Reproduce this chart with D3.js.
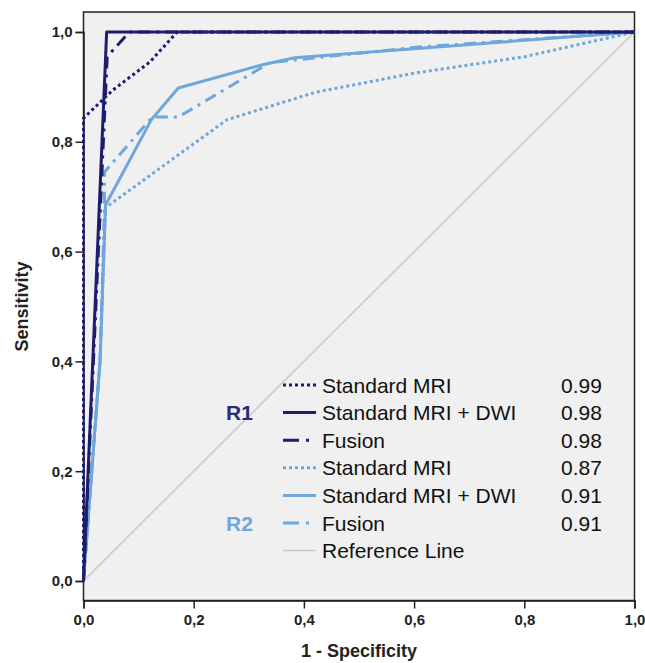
<!DOCTYPE html>
<html>
<head>
<meta charset="utf-8">
<script src="https://cdn.jsdelivr.net/npm/d3@7"></script>
<style>
  body { margin: 0; background: #ffffff; }
  svg { display: block; font-family: "Liberation Sans", Arial, sans-serif; }
</style>
</head>
<body>
<div id="chart"></div>
<script>
// ROC curves, two readers (R1, R2), three protocols each
var fprR1Std = [0, 0, 0.053, 0.12, 0.17, 1];
var tprR1Std = [0, 0.843, 0.894, 0.945, 1, 1];
var fprR1Dwi = [0, 0.042, 1];
var tprR1Dwi = [0, 1, 1];
var fprR1Fus = [0, 0.043, 0.083, 1];
var tprR1Fus = [0, 0.955, 1, 1];

var fprR2Std = [0, 0.03, 0.04, 0.26, 0.42, 0.6, 0.8, 1];
var tprR2Std = [0, 0.4, 0.68, 0.84, 0.89, 0.925, 0.955, 1];
var fprR2Dwi = [0, 0.03, 0.04, 0.123, 0.172, 0.323, 0.383, 1];
var tprR2Dwi = [0, 0.4, 0.685, 0.84, 0.898, 0.94, 0.953, 1];
var fprR2Fus = [0, 0.03, 0.038, 0.038, 0.125, 0.172, 0.338, 0.6, 1];
var tprR2Fus = [0, 0.4, 0.68, 0.745, 0.845, 0.845, 0.944, 0.972, 1];

var refLine = [0, 1];

var legendLabels = ["Standard MRI", "Standard MRI + DWI", "Fusion", "Standard MRI", "Standard MRI + DWI", "Fusion", "Reference Line"];
var aucValues = ["0.99", "0.98", "0.98", "0.87", "0.91", "0.91", ""];
var readerLabels = ["R1", "R2"];
var tickValues = [0, 0.2, 0.4, 0.6, 0.8, 1.0];

var W = 645, H = 663;
var dark = "#1d1d6e", light = "#6fa6dc", refColor = "#c9c9c9";

var svg = d3.select("#chart").append("svg")
    .attr("width", W)
    .attr("height", H);

var x = d3.scaleLinear().domain([0, 1]).range([83.5, 634.5]);
var y = d3.scaleLinear().domain([0, 1]).range([581, 32]);
var frameTop = 12, frameBottom = 600.5;

// plot background
svg.append("rect")
    .attr("x", x(0))
    .attr("y", frameTop)
    .attr("width", x(1) - x(0))
    .attr("height", frameBottom - frameTop)
    .attr("fill", "#f0f0f0")
    .attr("stroke", "#222")
    .attr("stroke-width", 1.5);

var fmt = function (d) { return d3.format(".1f")(d).replace(".", ","); };

var yAxis = svg.append("g")
    .attr("transform", "translate(" + x(0) + ",0)")
    .call(d3.axisLeft(y).tickValues(tickValues).tickFormat(fmt).tickSize(8).tickPadding(3));
var xAxis = svg.append("g")
    .attr("transform", "translate(0," + frameBottom + ")")
    .call(d3.axisBottom(x).tickValues(tickValues).tickFormat(fmt).tickSize(8).tickPadding(6));

[xAxis, yAxis].forEach(function (g) {
    g.select(".domain").attr("stroke", "#222").attr("stroke-width", 1.5);
    g.selectAll(".tick line").attr("stroke", "#222").attr("stroke-width", 1.5);
    g.selectAll(".tick text")
        .attr("fill", "#222")
        .attr("font-size", "15px")
        .attr("font-weight", "bold")
        .attr("font-family", "'Liberation Sans', Arial, sans-serif");
});

svg.append("text")
    .attr("x", (x(0) + x(1)) / 2)
    .attr("y", 657)
    .attr("text-anchor", "middle")
    .attr("font-size", "18px")
    .attr("font-weight", "bold")
    .attr("fill", "#222")
    .text("1 - Specificity");

svg.append("text")
    .attr("transform", "translate(28," + ((y(0) + y(1)) / 2) + ") rotate(-90)")
    .attr("text-anchor", "middle")
    .attr("font-size", "18px")
    .attr("font-weight", "bold")
    .attr("fill", "#222")
    .text("Sensitivity");

// curves
var line = d3.line()
    .x(function (d) { return x(d[0]); })
    .y(function (d) { return y(d[1]); });

var curves = [
    { fpr: refLine, tpr: refLine, color: refColor, width: 1.5, dash: null },
    { fpr: fprR2Std, tpr: tprR2Std, color: light, width: 3, dash: "3,3" },
    { fpr: fprR2Fus, tpr: tprR2Fus, color: light, width: 3, dash: "12,6,3,6" },
    { fpr: fprR2Dwi, tpr: tprR2Dwi, color: light, width: 3, dash: null },
    { fpr: fprR1Std, tpr: tprR1Std, color: dark, width: 3, dash: "3,3" },
    { fpr: fprR1Fus, tpr: tprR1Fus, color: dark, width: 3, dash: "12,6,3,6" },
    { fpr: fprR1Dwi, tpr: tprR1Dwi, color: dark, width: 3, dash: null }
];

svg.selectAll("path.curve")
    .data(curves)
    .enter()
    .append("path")
    .attr("class", "curve")
    .attr("d", function (d) { return line(d3.zip(d.fpr, d.tpr)); })
    .attr("fill", "none")
    .attr("stroke", function (d) { return d.color; })
    .attr("stroke-width", function (d) { return d.width; })
    .attr("stroke-dasharray", function (d) { return d.dash; })
    .attr("stroke-linejoin", "round");

// legend
var legendStyles = [
    { color: dark, width: 3, dash: "3,3" },
    { color: dark, width: 3, dash: null },
    { color: dark, width: 3, dash: "16,7,3,20" },
    { color: light, width: 3, dash: "3,3" },
    { color: light, width: 3, dash: null },
    { color: light, width: 3, dash: "16,7,3,20" },
    { color: refColor, width: 1.5, dash: null }
];

var rowY = function (i) { return 385 + i * 27.6; };

var rows = svg.selectAll("g.legend-row")
    .data(legendLabels)
    .enter()
    .append("g")
    .attr("class", "legend-row")
    .attr("transform", function (d, i) { return "translate(0," + rowY(i) + ")"; });

rows.append("line")
    .attr("x1", 283).attr("x2", 316)
    .attr("y1", 0).attr("y2", 0)
    .attr("stroke", function (d, i) { return legendStyles[i].color; })
    .attr("stroke-width", function (d, i) { return legendStyles[i].width; })
    .attr("stroke-dasharray", function (d, i) { return legendStyles[i].dash; });

rows.append("text")
    .attr("x", 322)
    .attr("y", 7.5)
    .attr("font-size", "21px")
    .attr("fill", "#111")
    .text(function (d) { return d; });

rows.append("text")
    .attr("x", 561)
    .attr("y", 7.5)
    .attr("font-size", "21px")
    .attr("fill", "#111")
    .text(function (d, i) { return aucValues[i]; });

svg.selectAll("text.reader")
    .data(readerLabels)
    .enter()
    .append("text")
    .attr("class", "reader")
    .attr("x", 226)
    .attr("y", function (d, i) { return rowY(1 + i * 4) + 7.5; })
    .attr("font-size", "21px")
    .attr("font-weight", "bold")
    .attr("fill", function (d, i) { return i === 0 ? "#2a2a78" : light; })
    .text(function (d) { return d; });
</script>
</body>
</html>
